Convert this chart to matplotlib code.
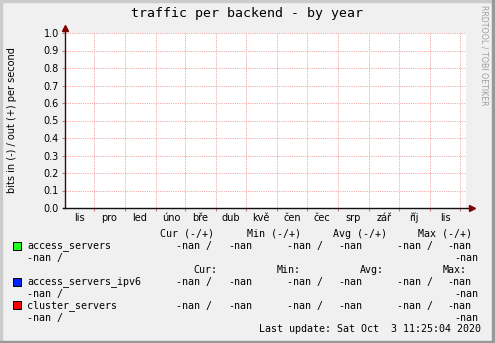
import datetime as dt
import numpy as np
import matplotlib
matplotlib.use("Agg")
import matplotlib.pyplot as plt
from matplotlib.patches import Rectangle

# data: all series are empty (-nan) in the reference
mesice = ["lis", "pro", "led", "úno", "bře", "dub", "kvě", "čen", "čec", "srp", "zář", "říj", "lis"]
zacatek = dt.datetime(2019, 11, 2)
konec = dt.datetime(2020, 12, 7)
mesic_od = [dt.datetime(2019 + (10 + i) // 12, (10 + i) % 12 + 1, 1) for i in range(1, 14)]
mesic_stred = [dt.datetime(2019 + (10 + i) // 12, (10 + i) % 12 + 1, 16) for i in range(13)]
y_ticks = [0.0, 0.1, 0.2, 0.3, 0.4, 0.5, 0.6, 0.7, 0.8, 0.9, 1.0]

serie = ["access_servers", "access_servers_ipv6", "cluster_servers"]
barvy = ["#22ff22", "#0022ff", "#ff0000"]
hodnoty_in = [np.nan, np.nan, np.nan]
hodnoty_out = [np.nan, np.nan, np.nan]

W, H = 495, 343
fig = plt.figure(figsize=(W / 100, H / 100), dpi=100)
fig.patch.set_facecolor("#f0f0f0")

def fx(x):
    return x / W

def fy(y):
    return 1 - y / H

def obdelnik(x0, y0, x1, y1, **kw):
    # pixel coords, y downwards
    r = Rectangle((fx(x0), fy(y1)), (x1 - x0) / W, (y1 - y0) / H, transform=fig.transFigure, **kw)
    fig.add_artist(r)

# stiny okraje
obdelnik(0, 0, 2, H, color="#cbcbcb", zorder=-1)
obdelnik(0, 0, W, 2, color="#cbcbcb", zorder=-1)
obdelnik(492, 0, W, H, color="#999999", zorder=-1)
obdelnik(0, 341, W, H, color="#999999", zorder=-1)

ax = fig.add_axes([fx(65), fy(208), (466 - 65) / W, (208 - 33) / H])
ax.set_facecolor("white")
for s in ax.spines.values():
    s.set_visible(False)

ax.set_xlim(zacatek, konec)
ax.set_ylim(0, 1.0)

t = [zacatek, konec]
for i, jm in enumerate(serie):
    ax.plot(t, [hodnoty_in[i]] * 2, color=barvy[i])
    ax.plot(t, [hodnoty_out[i]] * 2, color=barvy[i])

grid_c = "#f0a0a0"
ax.set_yticks(y_ticks)
ax.set_yticklabels(["%.1f" % v for v in y_ticks])
ax.set_xticks(mesic_od)
ax.set_xticklabels([""] * len(mesic_od))
ax.set_xticks(mesic_stred, minor=True)
ax.set_xticklabels(mesice, minor=True)
ax.tick_params(axis="both", which="major", length=2, width=0.8, color="#e07070", labelsize=7, pad=2.5)
ax.tick_params(axis="x", which="minor", length=0, labelsize=7, pad=3.5)
ax.grid(True, which="major", color=grid_c, linewidth=0.72, linestyle=(0, (1, 1.2)))

# osy se sipkami
ax.plot([0, 0], [0, 1.03], color="#301010", lw=1, transform=ax.transAxes, clip_on=False, zorder=5)
ax.plot([-0.006, 1.015], [0, 0], color="#101010", lw=1, transform=ax.transAxes, clip_on=False, zorder=5)
ax.plot([0], [1.03], marker="^", color="#800000", markersize=4, transform=ax.transAxes, clip_on=False, zorder=6)
ax.plot([1.015], [0], marker=">", color="#800000", markersize=4, transform=ax.transAxes, clip_on=False, zorder=6)

mono = "DejaVu Sans Mono"
fig.text(fx(247), fy(13), "traffic per backend - by year", ha="center", va="center",
         family=mono, fontsize=9.5)
fig.text(fx(12), fy(120), "bits in (-) / out (+) per second", rotation=90, ha="center", va="center",
         fontsize=7)
fig.text(fx(484), fy(5), "RRDTOOL / TOBI OETIKER", rotation=270, ha="center", va="top",
         fontsize=5.7, color="#a0a0a0")

fs = 7.2
def txt(x, y, s):
    fig.text(fx(x), fy(y), s, family=mono, fontsize=fs, va="center", ha="left")

for x, s in zip([160, 247, 333, 418], ["Cur (-/+)", "Min (-/+)", "Avg (-/+)", "Max (-/+)"]):
    txt(x, 234, s)
for x, s in zip([193, 277, 360, 443], ["Cur:", "Min:", "Avg:", "Max:"]):
    txt(x, 270, s)

radky = [246, 282, 306]
ctverce = [242, 278, 301]
for i, jm in enumerate(serie):
    y = radky[i]
    obdelnik(12.5, ctverce[i], 20.5, ctverce[i] + 8, facecolor=barvy[i], edgecolor="black",
             linewidth=0.7, zorder=2)
    txt(27, y, jm)
    for x, s in zip([176, 228, 287, 338, 397, 447], ["-nan /", "-nan", "-nan /", "-nan", "-nan /", "-nan"]):
        txt(x, y, s)
    txt(27, y + 12, "-nan /")
    txt(454, y + 12, "-nan")

txt(259, 329.5, "Last update: Sat Oct  3 11:25:04 2020")

fig.savefig("out.png", dpi=100, facecolor=fig.get_facecolor())
